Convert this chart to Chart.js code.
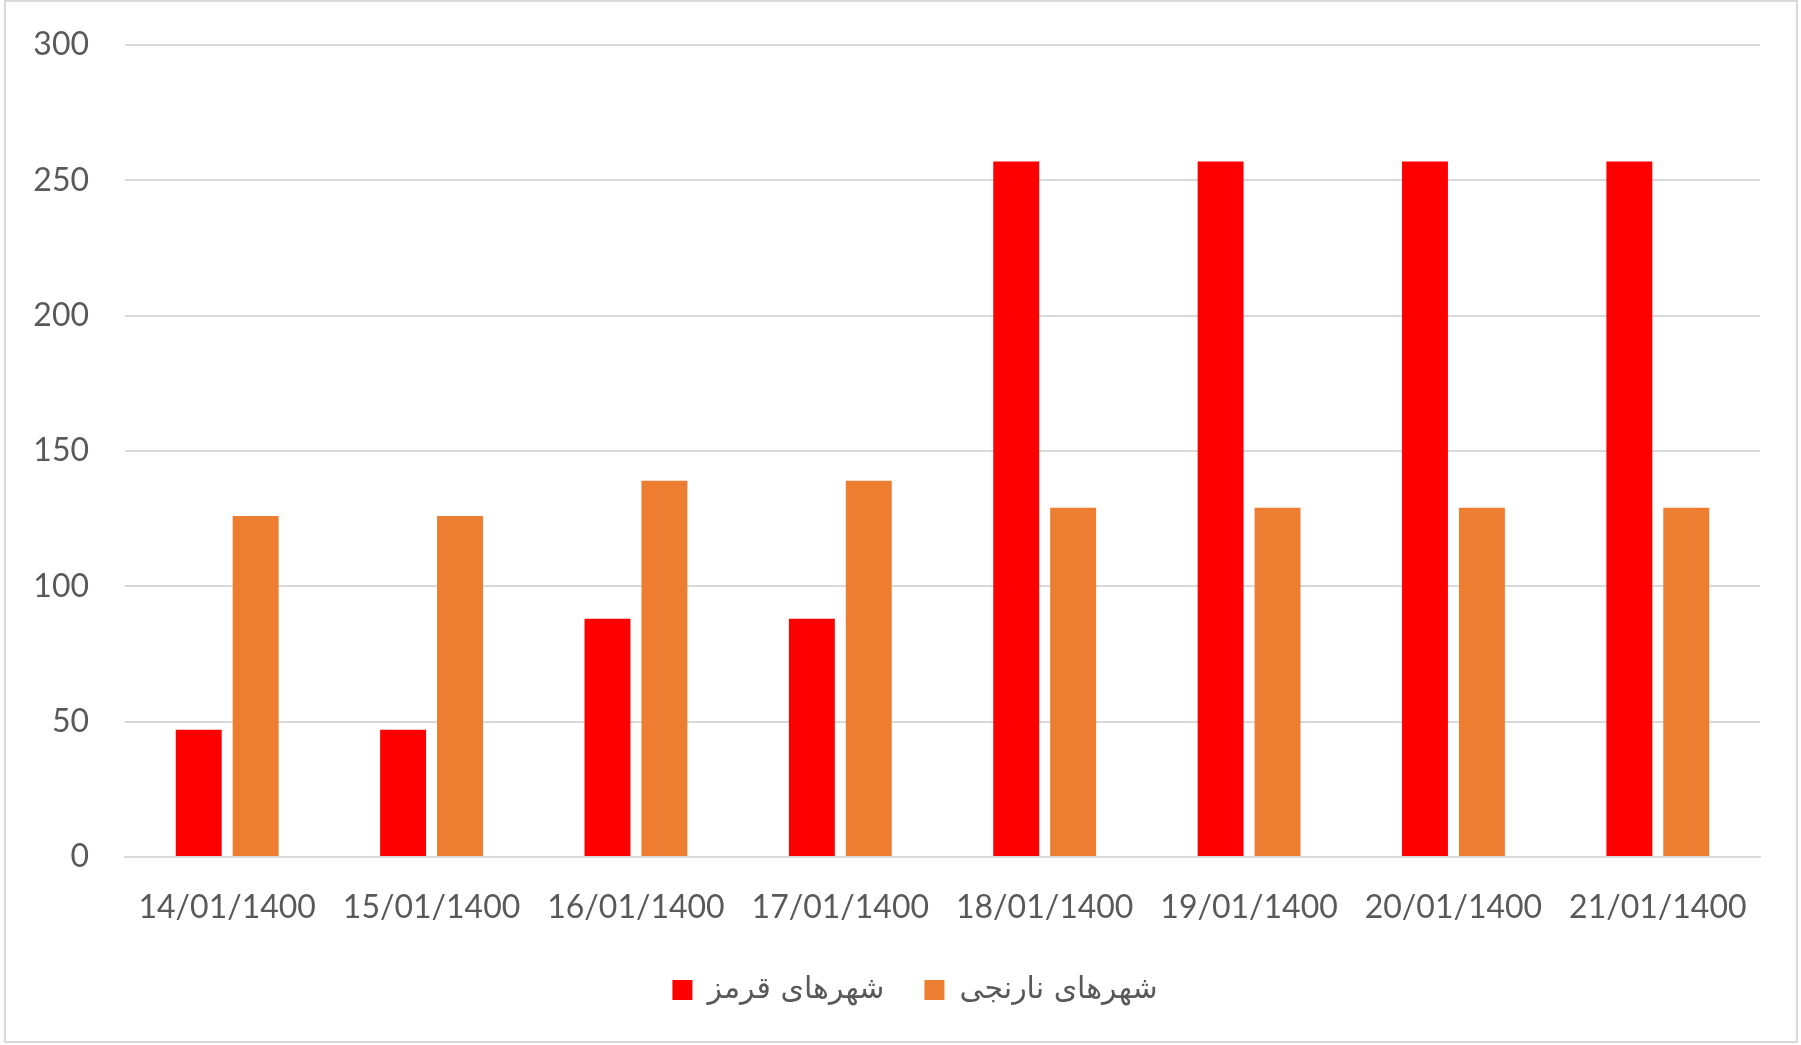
<!DOCTYPE html>
<html>
<head>
<meta charset="utf-8">
<script src="https://cdn.jsdelivr.net/npm/chart.js@4/dist/chart.umd.min.js"></script>
<style>
html,body{margin:0;padding:0;background:#fff;}
#wrap{width:1801px;height:1045px;}
</style>
</head>
<body>
<div id="wrap"><canvas id="c" width="1801" height="1045"></canvas></div>
<script>
const categories = ['14/01/1400','15/01/1400','16/01/1400','17/01/1400','18/01/1400','19/01/1400','20/01/1400','21/01/1400'];
const redSeriesName = 'شهرهای قرمز';
const orangeSeriesName = 'شهرهای نارنجی';
const redValues = [47, 47, 88, 88, 257, 257, 257, 257];
const orangeValues = [126, 126, 139, 139, 129, 129, 129, 129];
const yTicks = [0, 50, 100, 150, 200, 250, 300];

const frame = {
  id: 'frame',
  beforeDraw(chart) {
    const ctx = chart.ctx;
    ctx.save();
    ctx.fillStyle = '#ffffff';
    ctx.fillRect(0, 0, chart.width, chart.height);
    ctx.strokeStyle = '#d9d9d9';
    ctx.lineWidth = 2;
    ctx.strokeRect(5, 1, chart.width - 9, chart.height - 4);
    ctx.restore();
  }
};
const legendShift = {
  id: 'legendShift',
  afterLayout(chart) {
    chart.legend.left += 35;
    chart.legend.right += 35;
  }
};

new Chart(document.getElementById('c'), {
  type: 'bar',
  data: {
    labels: categories,
    datasets: [
      { label: redSeriesName, data: redValues, backgroundColor: '#FF0000', categoryPercentage: 0.557, barPercentage: 0.807 },
      { label: orangeSeriesName, data: orangeValues, backgroundColor: '#ED7D31', categoryPercentage: 0.557, barPercentage: 0.807 }
    ]
  },
  options: {
    responsive: false,
    devicePixelRatio: 1,
    animation: false,
    layout: { padding: { left: 0, right: 41, top: 45, bottom: 30 } },
    plugins: {
      legend: {
        position: 'bottom',
        labels: {
          boxWidth: 20,
          boxHeight: 20,
          padding: 40,
          color: '#595959',
          font: { family: 'DejaVu Sans', size: 30 }
        }
      },
      tooltip: { enabled: false }
    },
    scales: {
      x: {
        grid: { display: false, drawTicks: false },
        border: { display: true, color: '#d9d9d9', width: 2 },
        ticks: { color: '#595959', font: { family: 'Lato', size: 32 }, padding: 31, maxRotation: 0, autoSkip: false },
        afterFit(scale) { scale.height = 78; }
      },
      y: {
        min: 0, max: 300,
        afterBuildTicks(scale) { scale.ticks = yTicks.map(v => ({ value: v })); },
        grid: { color: '#d9d9d9', lineWidth: 2, drawTicks: false },
        border: { display: false },
        ticks: { color: '#595959', font: { family: 'Lato', size: 32 }, padding: 36 },
        afterFit(scale) { scale.width = 125; scale.paddingTop = 0; scale.paddingBottom = 0; }
      }
    }
  },
  plugins: [frame, legendShift]
});
</script>
</body>
</html>
